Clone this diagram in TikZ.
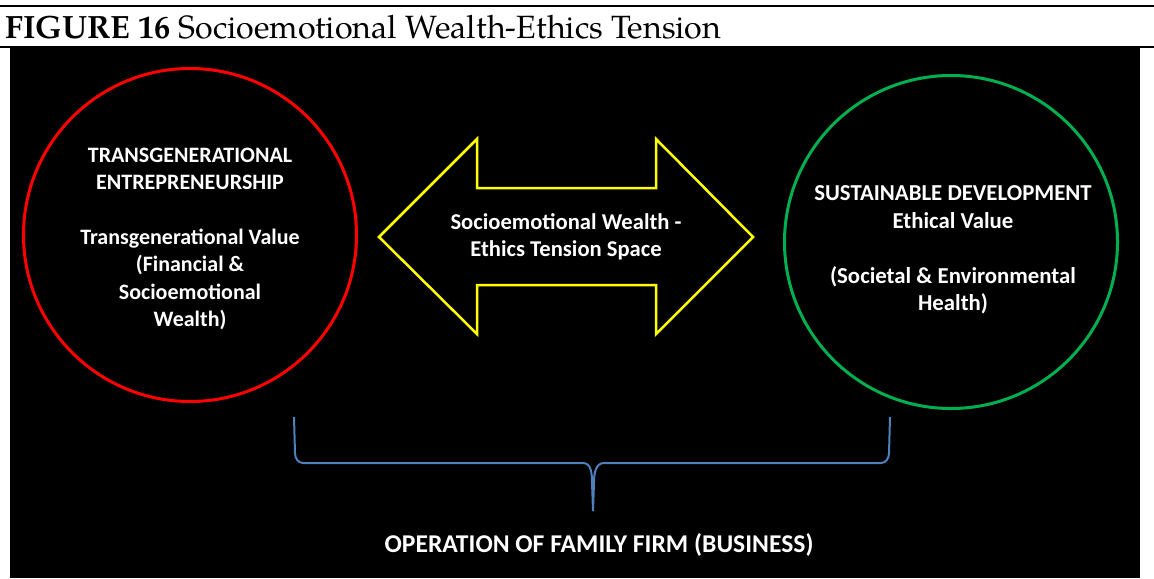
\documentclass[tikz,border=0pt]{standalone}
\usepackage{fontspec}
\newfontfamily\boxfont{Carlito}
\newfontfamily\captionfont{texgyrepagella}[Extension=.otf, UprightFont=*-regular, BoldFont=*-bold]
\usepackage{tikz}
\usetikzlibrary{positioning, calc}

\definecolor{tensionred}{RGB}{255,0,0}
\definecolor{ethicsgreen}{RGB}{0,176,80}
\definecolor{spaceyellow}{RGB}{255,255,0}
\definecolor{braceblue}{RGB}{79,129,189}

\begin{document}
\begin{tikzpicture}[x=0.5pt, y=-0.5pt,
  valuecircle/.style={circle, draw, line width=1.5pt, minimum size=166.5pt, inner sep=0pt},
  boxtext/.style={text=white, align=center, inner sep=0pt, font=\boxfont\bfseries\fontsize{11}{13.7}\selectfont}]
\useasboundingbox (0,0) rectangle (1154,578);
\fill[white] (0,0) rectangle (1154,578);

% Title rules and caption
\draw[line width=1.1pt] (0,6) -- (1154,6);
\draw[line width=0.8pt] (0,47) -- (1154,47);
\node[anchor=base west, inner sep=0pt] (title) at (5,38) {\captionfont\fontsize{16.1}{19}\selectfont\textbf{FIGURE 16} Socioemotional Wealth-Ethics Tension};

% Black panel
\fill[black] (10,48) rectangle (1140,578);

% Circles
\node[valuecircle, tensionred] (familycircle) at (190,235) {};
\node[valuecircle, ethicsgreen] (ethicscircle) at (951,242) {};

% Texts in circles
\node[boxtext] (familytext) at ($(familycircle.center)+(0,4)$) {TRANSGENERATIONAL\\ENTREPRENEURSHIP\\[13.7pt]Transgenerational Value\\(Financial \&\\Socioemotional\\Wealth)};
\node[boxtext, font=\boxfont\bfseries\fontsize{11.4}{13.7}\selectfont] (ethicstext) at ($(ethicscircle.center)+(2,8)$) {SUSTAINABLE DEVELOPMENT\\Ethical Value\\[13.7pt] (Societal \& Environmental\\Health)};

% Tension space arrow
\draw[spaceyellow, line width=1.25pt, line join=miter] (379,237) -- (477,139) -- (477,188) -- (656,188) -- (656,139) -- (753,237) -- (656,334) -- (656,285) -- (477,285) -- (477,334) -- cycle;
\node[boxtext, font=\boxfont\bfseries\fontsize{11.3}{13.7}\selectfont] (tension) at (566,237) {Socioemotional Wealth -\\Ethics Tension Space};

% Brace for the business
\coordinate (braceleft) at (294,417);
\coordinate (braceright) at (890,417);
\coordinate (bracetip) at (593,511);
\draw[braceblue, line width=1pt] (braceleft) -- (295,453) to[out=-90,in=180] (303,463) -- (583,463) to[out=0,in=90] (592,482) -- (bracetip);
\draw[braceblue, line width=1pt] (braceright) -- (889,453) to[out=-90,in=0] (881,463) -- (604,463) to[out=180,in=90] (594,482) -- (bracetip);
\node[boxtext, font=\boxfont\bfseries\fontsize{12.8}{15}\selectfont] (business) at (599,545) {OPERATION OF FAMILY FIRM (BUSINESS)};
\end{tikzpicture}
\end{document}
